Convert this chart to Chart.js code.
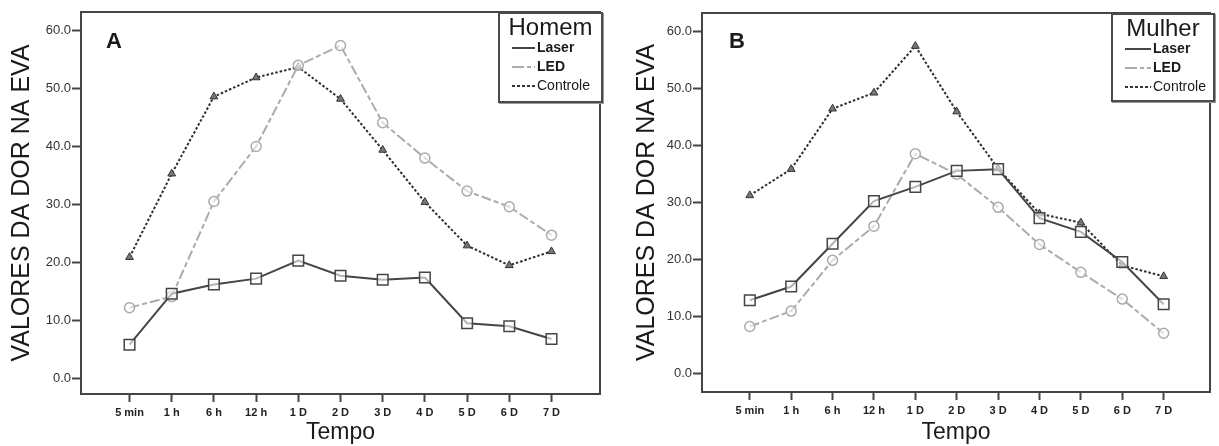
<!DOCTYPE html>
<html>
<head>
<meta charset="utf-8">
<script src="https://cdn.jsdelivr.net/npm/chart.js@4.4.1/dist/chart.umd.min.js"></script>
<style>
  body { margin: 0; background: #fff; font-family: "Liberation Sans", Arial, sans-serif; }
  #wrap { position: relative; width: 1219px; height: 446px; overflow: hidden; }
  canvas { position: absolute; top: 0; }
  #chartA { left: 0; }
  #chartB { left: 609px; }
  .letter { position: absolute; font-weight: bold; font-size: 22px; line-height: 22px; color: #1a1a1a; }
  .legend { position: absolute; background: #fff; border: 2px solid #4a4a4a; box-sizing: border-box;
            box-shadow: 1px 1px 0 #999; }
  .legend .ttl { position: absolute; left: 0; right: 0; top: 0; height: 26px; line-height: 26px;
                 text-align: center; font-size: 24px; color: #1a1a1a; }
  .legend .row { position: absolute; height: 19px; line-height: 19px; font-size: 14px; color: #1a1a1a; white-space: nowrap; }
  .legend .row svg { position: absolute; left: 0; top: 0; }
  .legend .row span { position: absolute; top: 0; }
  .legend .b { font-weight: bold; }
</style>
</head>
<body>
<div id="wrap">
  <canvas id="chartA" width="609" height="446"></canvas>
  <canvas id="chartB" width="610" height="446"></canvas>
  <div class="letter" style="left:106px;top:30px">A</div>
  <div class="letter" style="left:729px;top:30px">B</div>
  <div class="legend" id="legA" style="left:498px;top:12px;width:105px;height:91px"></div>
  <div class="legend" id="legB" style="left:1111px;top:13px;width:104px;height:89px"></div>
</div>
<script>
// categorias do eixo X (tempo)
const tempoLabels = ['5 min', '1 h', '6 h', '12 h', '1 D', '2 D', '3 D', '4 D', '5 D', '6 D', '7 D'];
const yTicks = [0, 10, 20, 30, 40, 50, 60];

// painel A - Homem
const homemLaser    = [5.8, 14.6, 16.2, 17.2, 20.3, 17.7, 17.0, 17.4, 9.5, 9.0, 6.8];
const homemLed      = [12.2, 14.1, 30.5, 40.0, 54.0, 57.4, 44.1, 38.0, 32.3, 29.6, 24.7];
const homemControle = [20.9, 35.3, 48.6, 51.9, 53.7, 48.2, 39.4, 30.4, 22.9, 19.5, 21.9];

// painel B - Mulher
const mulherLaser    = [12.9, 15.3, 22.8, 30.3, 32.8, 35.6, 35.9, 27.3, 24.9, 19.6, 12.2];
const mulherLed      = [8.3, 11.0, 19.9, 25.9, 38.6, 35.0, 29.2, 22.7, 17.8, 13.1, 7.1];
const mulherControle = [31.3, 35.9, 46.5, 49.3, 57.5, 46.0, 36.0, 28.1, 26.5, 19.0, 17.1];

const seriesNames = ['Laser', 'LED', 'Controle'];

const DARK = '#454545';
const LIGHT = '#ababab';

function toPoints(values) {
    return values.map((v, i) => ({x: i, y: v}));
}

function makeDatasets(laser, led, controle) {
    return [
        {
            label: seriesNames[0], data: toPoints(laser),
            borderColor: DARK, borderWidth: 2, tension: 0,
            pointStyle: 'rect', pointRadius: 7.5, pointBorderWidth: 1.5,
            pointBorderColor: DARK, pointBackgroundColor: 'rgba(255,255,255,0.6)'
        },
        {
            label: seriesNames[1], data: toPoints(led),
            borderColor: LIGHT, borderWidth: 2, borderDash: [10, 3, 5, 3], tension: 0,
            pointStyle: 'circle', pointRadius: 5, pointBorderWidth: 1.5,
            pointBorderColor: LIGHT, pointBackgroundColor: 'rgba(255,255,255,0.6)'
        },
        {
            label: seriesNames[2], data: toPoints(controle),
            borderColor: '#2e2e2e', borderWidth: 2, borderDash: [2.5, 2], tension: 0,
            pointStyle: 'triangle', pointRadius: 4.5, pointBorderWidth: 1,
            pointBorderColor: '#333', pointBackgroundColor: '#777'
        }
    ];
}

// moldura completa em volta da area do grafico
const framePlugin = {
    id: 'frame',
    afterDraw(chart) {
        const {ctx, chartArea: a} = chart;
        ctx.save();
        ctx.strokeStyle = DARK;
        ctx.lineWidth = 2;
        ctx.strokeRect(a.left, a.top, a.right - a.left, a.bottom - a.top);
        ctx.restore();
    }
};

function makeOptions(cfg) {
    return {
        responsive: false,
        animation: false,
        layout: {padding: {left: 0, right: cfg.padRight, top: cfg.padTop, bottom: 0}},
        plugins: {legend: {display: false}, tooltip: {enabled: false}},
        scales: {
            x: {
                type: 'linear',
                min: cfg.xMin,
                max: cfg.xMax,
                afterBuildTicks: s => { s.ticks = tempoLabels.map((_, i) => ({value: i})); },
                afterFit: s => { s.height = cfg.xHeight; },
                ticks: {
                    autoSkip: false, maxRotation: 0, padding: 4, color: '#222',
                    font: {family: '"Liberation Sans", Arial', size: 11, weight: 'bold'},
                    callback: v => tempoLabels[v]
                },
                grid: {drawOnChartArea: false, drawTicks: true, tickLength: 8, tickColor: DARK, tickWidth: 2},
                border: {display: true, color: DARK, width: 2},
                title: {
                    display: true, text: 'Tempo', color: '#1a1a1a', padding: 0,
                    font: {family: '"Liberation Sans", Arial', size: 23, lineHeight: 1.2}
                }
            },
            y: {
                min: cfg.yMin,
                max: cfg.yMax,
                afterBuildTicks: s => { s.ticks = yTicks.map(v => ({value: v})); },
                afterFit: s => { s.width = cfg.yWidth; },
                ticks: {
                    padding: 1, color: '#333',
                    font: {family: '"Liberation Sans", Arial', size: 13},
                    callback: v => v.toFixed(1)
                },
                grid: {drawOnChartArea: false, drawTicks: true, tickLength: 9, tickColor: DARK, tickWidth: 2},
                border: {display: true, color: DARK, width: 2},
                title: {
                    display: true, text: 'VALORES DA DOR NA EVA', color: '#1a1a1a',
                    padding: {top: cfg.titlePad, bottom: 0},
                    font: {family: '"Liberation Sans", Arial', size: 25, lineHeight: 1.2}
                }
            }
        }
    };
}

new Chart(document.getElementById('chartA'), {
    type: 'line',
    data: {datasets: makeDatasets(homemLaser, homemLed, homemControle)},
    options: makeOptions({padRight: 6, padTop: 12, xMin: -1.15, xMax: 11.15, xHeight: 52,
                          yMin: -2.7, yMax: 63.2, yWidth: 81, titlePad: 7}),
    plugins: [framePlugin]
});

new Chart(document.getElementById('chartB'), {
    type: 'line',
    data: {datasets: makeDatasets(mulherLaser, mulherLed, mulherControle)},
    options: makeOptions({padRight: 4, padTop: 13, xMin: -1.155, xMax: 11.12, xHeight: 54,
                          yMin: -3.2, yMax: 63.3, yWidth: 93, titlePad: 23}),
    plugins: [framePlugin]
});

// legendas (caixa no canto superior direito de cada painel)
const legendSamples = [
    {color: DARK, dash: ''},
    {color: LIGHT, dash: '12 3 4 3'},
    {color: '#333', dash: '3 2'}
];
const legendBold = [true, true, false];

function buildLegend(el, title, lineX, lineW, textX) {
    let html = '<div class="ttl">' + title + '</div>';
    seriesNames.forEach((name, i) => {
        const s = legendSamples[i];
        html += '<div class="row" style="left:' + lineX + 'px;top:' + (24 + i * 19) + 'px;width:90px">' +
            '<svg width="' + lineW + '" height="19"><line x1="0" y1="10" x2="' + lineW + '" y2="10" stroke="' +
            s.color + '" stroke-width="2" stroke-dasharray="' + s.dash + '"/></svg>' +
            '<span class="' + (legendBold[i] ? 'b' : '') + '" style="left:' + (textX - lineX) + 'px">' + name + '</span></div>';
    });
    el.innerHTML = html;
}
buildLegend(document.getElementById('legA'), 'Homem', 12, 23, 37);
buildLegend(document.getElementById('legB'), 'Mulher', 12, 26, 40);
</script>
</body>
</html>
